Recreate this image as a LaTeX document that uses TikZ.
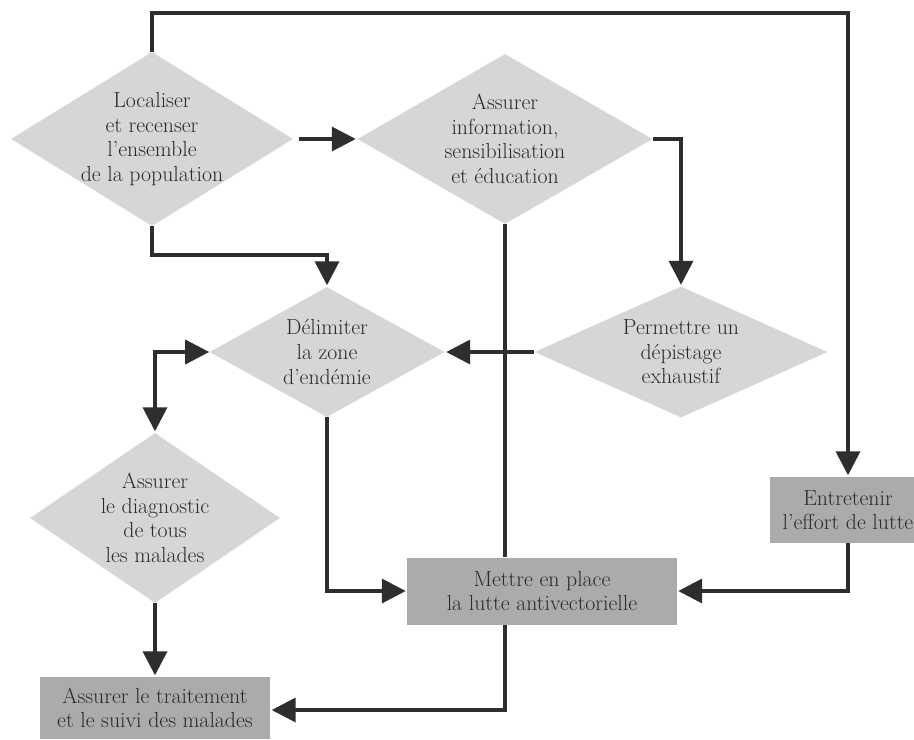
\documentclass[tikz,border=0pt]{standalone}
\usetikzlibrary{shapes.geometric,arrows.meta}
\definecolor{diafill}{HTML}{D6D6D6}
\definecolor{boxfill}{HTML}{ABABAB}
\definecolor{linecol}{HTML}{2E2E2E}
\definecolor{textcol}{HTML}{2A2A2A}
\begin{document}
\begin{tikzpicture}[x=0.025cm,y=-0.025cm,
    every node/.style={font=\fontsize{15.5}{17.5}\selectfont,text=textcol,align=center},
    rhomb/.style={diamond,fill=diafill,inner sep=0pt},
    box/.style={rectangle,fill=boxfill,inner sep=0pt},
    arr/.style={line width=2.6pt,draw=linecol,-{Triangle[length=0.6cm,width=0.6cm]},shorten >=1pt},
    link/.style={line width=2.6pt,draw=linecol}]
    \useasboundingbox (0,0) rectangle (914,739);
    \node[rhomb,minimum width=7.05cm,minimum height=4.35cm] (loc) at (152,139) {};
    \node at (loc.center) {Localiser\\et recenser\\l'ensemble\\de la population};
    \node[rhomb,minimum width=7.375cm,minimum height=4.25cm] (info) at (505,139) {};
    \node at (info.center) {Assurer\\information,\\sensibilisation\\et éducation};
    \node[rhomb,minimum width=5.875cm,minimum height=3.25cm] (zone) at (327,352) {};
    \node at (zone.center) {Délimiter\\la zone\\d'endémie};
    \node[rhomb,minimum width=7.325cm,minimum height=3.275cm] (depist) at (681,352) {};
    \node at (depist.center) {Permettre un\\dépistage\\exhaustif};
    \node[rhomb,minimum width=6.25cm,minimum height=4.25cm] (diag) at (155,518) {};
    \node at (diag.center) {Assurer\\le diagnostic\\de tous\\les malades};
    \node[box,minimum width=3.9cm,minimum height=1.65cm] (entret) at (848,510) {Entretenir\\l'effort de lutte};
    \node[box,minimum width=6.725cm,minimum height=1.675cm] (lutte) at (542,591) {Mettre en place\\la lutte antivectorielle};
    \node[box,minimum width=5.75cm,minimum height=1.55cm] (trait) at (155,708) {Assurer le traitement\\et le suivi des malades};
    \coordinate (top) at (0,13);
    \coordinate (mid) at (0,255);
    \coordinate (low) at (0,710);
    \draw[arr] (loc.north) -- (loc.north |- top) -| (entret.north);
    \draw[arr,shorten <=4pt] (loc.east) -- (info.west);
    \draw[arr] (loc.south) -- (loc.south |- mid) -| (zone.north);
    \draw[arr] (info.east) -| (depist.north);
    \draw[link] (info.south) -- (info.south |- lutte.north);
    \draw[arr] (depist.west) -- (zone.east);
    \draw[arr] (zone.south) |- (lutte.west);
    \draw[arr,{Triangle[length=0.6cm,width=0.6cm]}-{Triangle[length=0.6cm,width=0.6cm]}] (zone.west) -| (diag.north);
    \draw[arr] (diag.south) -- (trait.north);
    \draw[arr] (entret.south) |- (lutte.east);
    \draw[arr] (info.south |- lutte.south) -- (info.south |- low) -- (trait.east |- low);
\end{tikzpicture}
\end{document}
